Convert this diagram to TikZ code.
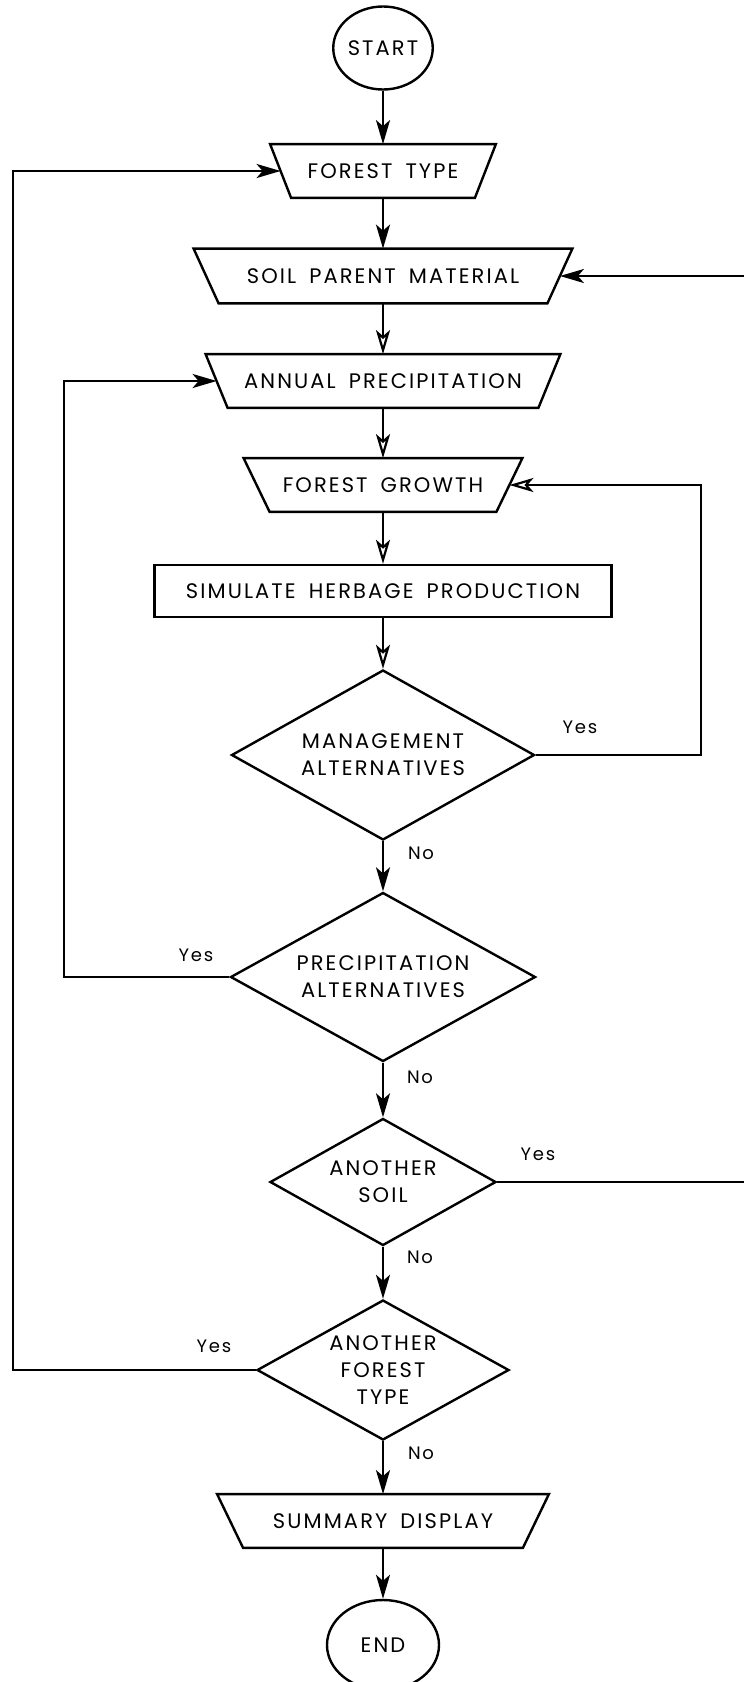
\documentclass[tikz,border=0pt]{standalone}
\usepackage{fontspec}
\newfontfamily\chartfont[LetterSpace=10,WordSpace=1.7]{Poppins}
\usetikzlibrary{shapes.geometric,arrows.meta}

\tikzset{
  terminal/.style={ellipse,draw,line width=1.2pt,inner sep=0pt},
  iobox/.style={rectangle,inner sep=0pt,minimum height=26.5pt},
  process/.style={rectangle,draw,line width=1.2pt,minimum height=26pt,inner sep=0pt},
  decision/.style={diamond,draw,line width=1.2pt,aspect=1.8,inner sep=0pt,align=center},
  flow/.style={line width=1.1pt,-{Stealth[length=12pt,width=7pt,inset=3pt]}},
  flowopen/.style={line width=1.1pt,-{Stealth[open,length=12pt,width=7pt,inset=3pt]}},
  lbl/.style={font=\chartfont\fontsize{9}{10}\selectfont}
}

% slanted input/output outline round an iobox node: #1 node, #2 half the slant
\newcommand{\ioframe}[2]{%
  \draw[line width=1.2pt] ([xshift=-#2]#1.north west) -- ([xshift=#2]#1.north east)
    -- ([xshift=-#2]#1.south east) -- ([xshift=#2]#1.south west) -- cycle;}

\begin{document}
\begin{tikzpicture}[x=0.5pt,y=-0.5pt,font=\chartfont\fontsize{10.5}{13.5}\selectfont]
    \useasboundingbox (0,0) rectangle (744,1682);

    % column of steps
    \node[terminal,minimum width=43pt,minimum height=41.5pt] (start) at (383,48) {START};
    \node[iobox,minimum width=102pt] (ftype) at (383,171) {FOREST TYPE};
    \node[iobox,minimum width=176.5pt,minimum height=27pt] (soil) at (383,276) {SOIL PARENT MATERIAL};
    \node[iobox,minimum width=166pt] (annual) at (383,381) {ANNUAL PRECIPITATION};
    \node[iobox,minimum width=126pt] (growth) at (383,485) {FOREST GROWTH};
    \node[process,minimum width=228.5pt] (herbage) at (383,591) {SIMULATE HERBAGE PRODUCTION};
    \node[decision,minimum width=151.5pt,minimum height=85pt] (manage) at (383,755) {MANAGEMENT\\ALTERNATIVES};
    \node[decision,minimum width=152.5pt,minimum height=84.5pt] (precip) at (383,977) {PRECIPITATION\\ALTERNATIVES};
    \node[decision,minimum width=113pt,minimum height=63.5pt] (ansoil) at (383,1182) {ANOTHER\\SOIL};
    \node[decision,minimum width=126pt,minimum height=70pt] (anforest) at (383,1370) {ANOTHER\\FOREST\\TYPE};
    \node[iobox,minimum width=152.5pt] (summary) at (383,1521) {SUMMARY DISPLAY};
    \node[terminal,minimum width=56pt,minimum height=45pt] (end) at (383,1645) {END};

    \ioframe{ftype}{5.25pt}
    \ioframe{soil}{6.25pt}
    \ioframe{annual}{5.5pt}
    \ioframe{growth}{6.5pt}
    \ioframe{summary}{6.5pt}

    % return lines
    \coordinate (outer) at (13,0);
    \coordinate (inner) at (64,0);
    \coordinate (rinner) at (701,0);
    \coordinate (router) at (780,0);

    % downward flow
    \draw[flow] (start) -- (ftype);
    \draw[flow] (ftype) -- (soil);
    \draw[flowopen] (soil) -- (annual);
    \draw[flowopen] (annual) -- (growth);
    \draw[flowopen] (growth) -- (herbage);
    \draw[flowopen] (herbage) -- (manage);
    \draw[flow] (manage) -- (precip);
    \draw[flow] (precip) -- (ansoil);
    \draw[flow] (ansoil) -- (anforest);
    \draw[flow] (anforest) -- (summary);
    \draw[flow] (summary) -- (end);

    % loops back
    \draw[flowopen] (manage.east) -- (manage.east -| rinner) |- (growth.east);
    \draw[flow] (precip.west) -- (precip.west -| inner) |- (annual.west);
    \draw[flow] (ansoil.east) -- (ansoil.east -| router) |- (soil.east);
    \draw[flow] (anforest.west) -- (anforest.west -| outer) |- (ftype.west);

    % branch labels
    \node[lbl] (y1) at (580,727) {Yes};
    \node[lbl] (n1) at (421,853) {No};
    \node[lbl] (y2) at (196,955) {Yes};
    \node[lbl] (n2) at (420,1077) {No};
    \node[lbl] (y3) at (538,1154) {Yes};
    \node[lbl] (n3) at (420,1257) {No};
    \node[lbl] (y4) at (214,1346) {Yes};
    \node[lbl] (n4) at (421,1453) {No};
\end{tikzpicture}
\end{document}
